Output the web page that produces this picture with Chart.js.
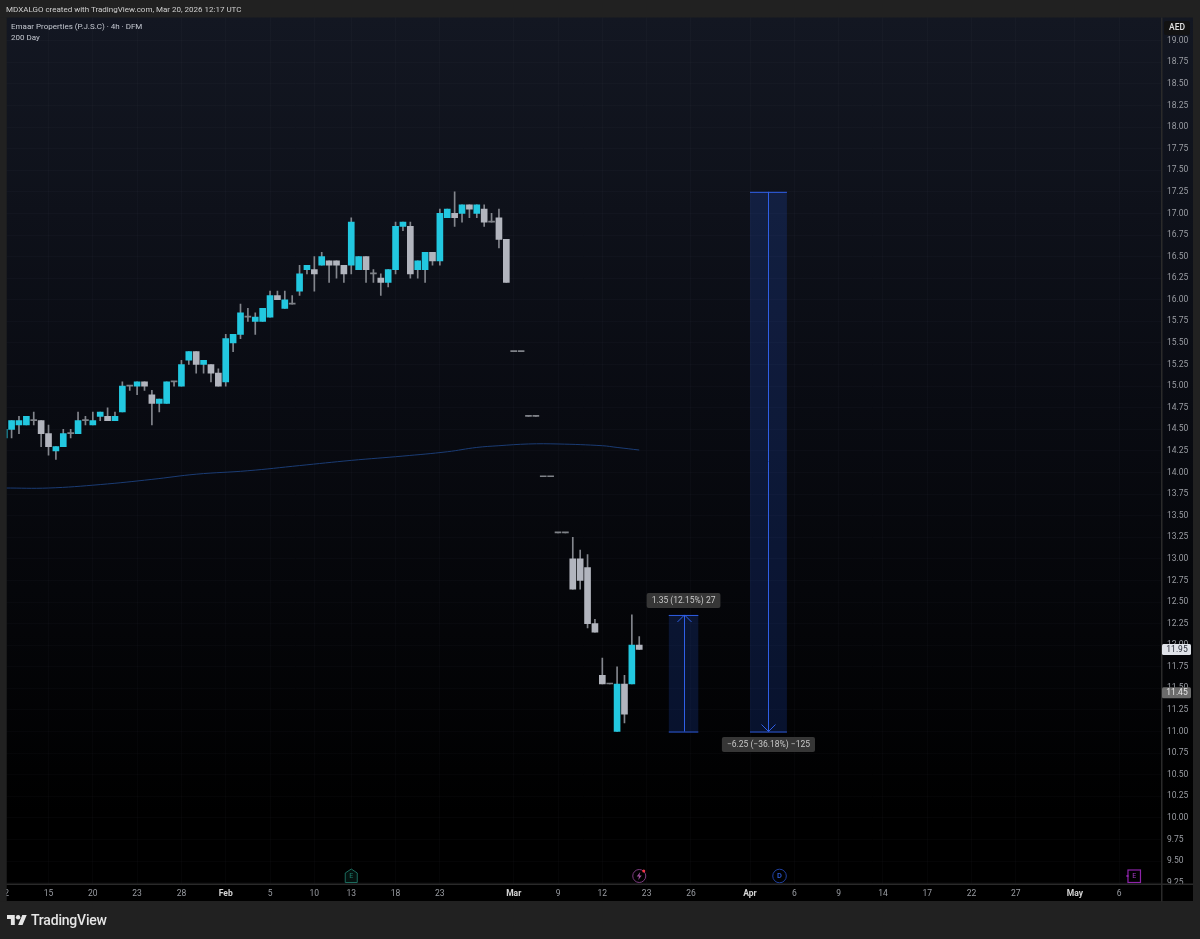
<!DOCTYPE html>
<html>
<head>
<meta charset="utf-8">
<title>Emaar Properties 4h</title>
<script src="https://cdn.jsdelivr.net/npm/chart.js@4"></script>
<style>
    html, body { margin: 0; padding: 0; background: #212121; }
    body { width: 1200px; height: 939px; overflow: hidden; position: relative; font-family: Roboto, sans-serif; }
    canvas { position: absolute; left: 0; top: 0; }
    .txt { position: absolute; white-space: nowrap; }
    #header { left: 6px; top: 4px; font-size: 8px; line-height: 11px; color: #cfcfcf; }
    #legend { left: 11px; top: 22px; font-size: 8px; line-height: 10.5px; color: #c4c8d0; }
    #brand { left: 31px; top: 911px; font-size: 14px; line-height: 18px; font-weight: 500; color: #e6e6e6; letter-spacing: -0.2px; }
    #logo { position: absolute; left: 7px; top: 914px; width: 20px; height: 12px; }
</style>
</head>
<body>
<canvas id="chart" width="1200" height="939"></canvas>
<div class="txt" id="header">MDXALGO created with TradingView.com, Mar 20, 2026 12:17 UTC</div>
<div class="txt" id="legend">Emaar Properties (P.J.S.C) · 4h · DFM<br>200 Day</div>
<svg id="logo" viewBox="0 4 36 18"><path fill="#e6e6e6" d="M14 22H7V11H0V4h14v18zM28 22h-8l7.5-18h8L28 22z"/><circle fill="#e6e6e6" cx="20" cy="8" r="4"/></svg>
<div class="txt" id="brand">TradingView</div>

<script>
// candles, one entry per 4h bar
const opens = [14.40,14.50,14.55,14.55,14.60,14.60,14.45,14.25,14.30,14.45,14.45,14.60,14.55,14.65,14.65,14.60,14.70,15.00,15.00,15.05,14.90,14.80,14.80,15.05,15.00,15.30,15.40,15.25,15.25,15.15,
    15.05,15.50,15.60,15.80,15.75,15.75,15.80,16.05,15.90,15.95,16.10,16.35,16.35,16.40,16.45,16.45,16.40,16.40,16.35,16.50,16.30,16.25,16.20,16.35,16.85,16.85,16.35,16.35,16.55,16.45,
    16.95,17.00,17.00,17.10,17.00,17.05,16.90,16.95,16.70,15.40,15.40,14.65,14.65,13.95,13.95,13.30,13.30,13.00,13.00,12.90,12.25,11.65,11.55,11.00,11.55,11.55,12.00];
const closes = [14.50,14.60,14.60,14.65,14.60,14.45,14.30,14.30,14.45,14.45,14.60,14.60,14.60,14.70,14.60,14.65,15.00,15.00,15.05,15.00,14.80,14.85,15.05,15.05,15.25,15.40,15.25,15.30,15.15,15.00,
    15.55,15.60,15.85,15.80,15.80,15.90,16.05,16.00,16.00,15.95,16.30,16.40,16.30,16.50,16.40,16.40,16.30,16.90,16.50,16.35,16.30,16.20,16.35,16.85,16.90,16.30,16.45,16.55,16.45,17.00,
    17.05,16.95,17.10,17.05,17.10,16.90,16.90,16.70,16.20,15.40,15.40,14.65,14.65,13.95,13.95,13.30,13.30,12.65,12.75,12.25,12.15,11.55,11.55,11.55,11.20,12.00,11.95];
const highs = [14.50,14.60,14.65,14.65,14.70,14.60,14.55,14.30,14.50,14.50,14.70,14.65,14.70,14.70,14.75,14.70,15.05,15.00,15.05,15.05,14.95,14.85,15.05,15.05,15.30,15.40,15.40,15.30,15.25,15.20,
    15.60,15.60,15.95,15.90,15.85,15.90,16.10,16.10,16.10,16.05,16.40,16.40,16.50,16.55,16.45,16.45,16.40,16.95,16.50,16.50,16.35,16.30,16.35,16.90,16.90,16.90,16.45,16.55,16.55,17.05,
    17.05,17.25,17.10,17.10,17.10,17.10,17.00,17.05,16.70,15.40,15.40,14.65,14.65,13.95,13.95,13.30,13.30,13.25,13.10,13.05,12.30,11.85,11.55,11.75,11.65,12.35,12.10];
const lows = [14.40,14.40,14.45,14.55,14.55,14.30,14.20,14.15,14.30,14.40,14.45,14.55,14.55,14.60,14.60,14.60,14.70,14.95,14.90,14.95,14.55,14.70,14.80,15.00,15.00,15.25,15.15,15.15,15.05,15.00,
    15.00,15.40,15.55,15.75,15.60,15.75,15.80,16.00,15.90,15.95,16.05,16.30,16.10,16.40,16.20,16.25,16.20,16.30,16.35,16.20,16.20,16.05,16.15,16.30,16.80,16.25,16.25,16.20,16.40,16.40,
    16.95,16.85,16.90,16.95,16.95,16.85,16.90,16.60,16.20,15.40,15.40,14.65,14.65,13.95,13.95,13.30,13.30,12.65,12.65,12.20,12.15,11.55,11.55,11.00,11.10,11.55,11.95];

// 200 Day moving average
const maBars = [0,6,13,20,26,33,40,47,54,60,64,67,71,75,81,83,86];
const maValues = [13.82,13.82,13.86,13.92,13.98,14.02,14.08,14.14,14.19,14.24,14.29,14.31,14.33,14.33,14.31,14.29,14.26];

// price axis
const priceTicks = [9.25,9.50,9.75,10.00,10.25,10.50,10.75,11.00,11.25,11.50,11.75,12.00,12.25,12.50,12.75,13.00,13.25,13.50,13.75,14.00,14.25,14.50,14.75,15.00,15.25,15.50,15.75,16.00,16.25,16.50,16.75,17.00,17.25,17.50,17.75,18.00,18.25,18.50,18.75,19.00];

// time axis
const timeTickBars = [0,6,12,18,24,30,36,42,47,53,59,69,75,81,87,93,101,107,113,119,125,131,137,145,151];
const timeTickLabels = ['12','15','20','23','28','Feb','5','10','13','18','23','Mar','9','12','23','26','Apr','6','9','14','17','22','27','May','6'];
const boldLabels = ['Feb','Mar','Apr','May'];

// measure tools
const measureFromBar = [90,101];
const measureToBar = [94,106];
const measureFrom = [11.00,17.25];
const measureTo = [12.35,11.00];
const measureLabels = ['1.35 (12.15%) 27','\u22126.25 (\u221236.18%) \u2212125'];

// price labels on the axis
const lastPrices = [11.95,11.45];
const lastPriceBg = ['#dfe2e8','#6b6b6b'];
const lastPriceFg = ['#2a2e39','#e6e6e6'];

// event markers on the time axis
const eventBars = [47,86,105,153];
const eventKinds = ['earnings','split','dividend','earningsNext'];

const CYAN = '#22c8e0';
const GRAY = '#b2b5be';
const WICK = '#83868d';
const DOJI = '#7f8288';
const FONT = 'Roboto, sans-serif';

const barIds = opens.map((v, i) => i);
const wickData = barIds.map(i => ({ x: i, y: [lows[i], highs[i]] }));
const bodyData = barIds.map(i => ({ x: i, y: [opens[i], closes[i]] }));
const bodyColors = barIds.map(i => {
    if (closes[i] > opens[i]) return CYAN;
    if (closes[i] < opens[i]) return GRAY;
    return DOJI;
});

function roundBox(ctx, x, y, w, h, r) {
    ctx.beginPath();
    ctx.roundRect(x, y, w, h, r);
}

// fond du graphique : bandeau sombre avec degrade vertical
const backgroundPlugin = {
    id: 'panel',
    beforeDraw(chart) {
        const ctx = chart.ctx;
        const top = chart.chartArea.top, bottom = chart.chartArea.bottom;
        const grad = ctx.createLinearGradient(0, top, 0, bottom);
        grad.addColorStop(0, '#131722');
        grad.addColorStop(0.45, '#090b12');
        grad.addColorStop(0.92, '#000000');
        grad.addColorStop(1, '#000000');
        ctx.save();
        ctx.fillStyle = grad;
        ctx.fillRect(6.5, top, 1186.5, 883.5);
        ctx.restore();
    },
    afterDraw(chart) {
        const ctx = chart.ctx;
        const a = chart.chartArea;
        const y = chart.scales.y;
        ctx.save();
        // bord gauche, coupe le label partiel
        ctx.fillStyle = '#212121';
        ctx.fillRect(0, a.top, 6.5, 884);
        // separateurs
        ctx.fillStyle = '#2a2a2a';
        ctx.fillRect(a.right, a.top, 1.5, 884);
        ctx.fillRect(6.5, a.bottom, 1186.5, 1.5);
        // AED
        ctx.fillStyle = '#121212';
        roundBox(ctx, 1164, 21, 26, 14, 2);
        ctx.fill();
        ctx.fillStyle = '#e0e0e0';
        ctx.font = '500 8.5px ' + FONT;
        ctx.textAlign = 'center';
        ctx.textBaseline = 'middle';
        ctx.fillText('AED', 1177, 28);
        // last prices
        lastPrices.forEach((p, i) => {
            const py = y.getPixelForValue(p);
            ctx.fillStyle = lastPriceBg[i];
            roundBox(ctx, 1162, py - 5.5, 29, 11, 1.5);
            ctx.fill();
            ctx.fillStyle = lastPriceFg[i];
            ctx.font = '8.5px ' + FONT;
            ctx.fillText(p.toFixed(2), 1177, py + 0.5);
        });
        ctx.restore();
    }
};

// outil de mesure : rectangle bleu, fleche et etiquette
const measurePlugin = {
    id: 'measure',
    beforeDatasetsDraw(chart) {
        const ctx = chart.ctx;
        const xs = chart.scales.x, ys = chart.scales.y;
        ctx.save();
        measureFromBar.forEach((b, i) => {
            const x0 = xs.getPixelForValue(b), x1 = xs.getPixelForValue(measureToBar[i]);
            const yA = ys.getPixelForValue(measureFrom[i]), yB = ys.getPixelForValue(measureTo[i]);
            const top = Math.min(yA, yB), bottom = Math.max(yA, yB);
            const mid = Math.round((x0 + x1) / 2) + 0.5;
            const dir = yB < yA ? 1 : -1;
            ctx.fillStyle = 'rgba(41,98,255,0.17)';
            ctx.fillRect(x0, top, x1 - x0, bottom - top);
            ctx.strokeStyle = '#2f5fe6';
            ctx.lineWidth = 1;
            ctx.beginPath();
            ctx.moveTo(x0, top + 0.5); ctx.lineTo(x1, top + 0.5);
            ctx.moveTo(x0, bottom + 0.5); ctx.lineTo(x1, bottom + 0.5);
            ctx.moveTo(mid, top); ctx.lineTo(mid, bottom);
            ctx.moveTo(mid - 7, yB + dir * 7); ctx.lineTo(mid, yB); ctx.lineTo(mid + 7, yB + dir * 7);
            ctx.stroke();
        });
        ctx.restore();
    },
    afterDatasetsDraw(chart) {
        const ctx = chart.ctx;
        const xs = chart.scales.x, ys = chart.scales.y;
        ctx.save();
        ctx.font = '8.5px ' + FONT;
        ctx.textAlign = 'center';
        ctx.textBaseline = 'middle';
        measureLabels.forEach((label, i) => {
            const cx = (xs.getPixelForValue(measureFromBar[i]) + xs.getPixelForValue(measureToBar[i])) / 2;
            const up = measureTo[i] > measureFrom[i];
            const edge = ys.getPixelForValue(measureTo[i]);
            const w = ctx.measureText(label).width + 10;
            const cy = up ? edge - 14.5 : edge + 13;
            ctx.fillStyle = '#363636';
            roundBox(ctx, cx - w / 2, cy - 7.5, w, 15, 2);
            ctx.fill();
            ctx.fillStyle = '#c8c8c8';
            ctx.fillText(label, cx, cy + 0.5);
        });
        ctx.restore();
    }
};

// marqueurs d'evenements en bas du graphique
const eventPlugin = {
    id: 'events',
    afterDatasetsDraw(chart) {
        const ctx = chart.ctx;
        const xs = chart.scales.x;
        const cy = chart.chartArea.bottom - 7.5;
        ctx.save();
        ctx.textAlign = 'center';
        ctx.textBaseline = 'middle';
        eventBars.forEach((b, i) => {
            const cx = xs.getPixelForValue(b);
            const kind = eventKinds[i];
            ctx.lineWidth = 1;
            if (kind === 'earnings') {
                ctx.strokeStyle = '#1b6a5c';
                ctx.fillStyle = '#04120f';
                ctx.beginPath();
                ctx.moveTo(cx, cy - 7);
                ctx.lineTo(cx + 6, cy - 3);
                ctx.lineTo(cx + 6, cy + 6.5);
                ctx.lineTo(cx - 6, cy + 6.5);
                ctx.lineTo(cx - 6, cy - 3);
                ctx.closePath();
                ctx.fill();
                ctx.stroke();
                ctx.fillStyle = '#1f7f6d';
                ctx.font = '7px ' + FONT;
                ctx.fillText('E', cx, cy + 0.5);
            } else if (kind === 'split') {
                ctx.strokeStyle = '#7b3a7e';
                ctx.beginPath();
                ctx.arc(cx, cy, 6.5, 0, Math.PI * 2);
                ctx.stroke();
                ctx.fillStyle = '#a0529f';
                ctx.beginPath();
                ctx.moveTo(cx + 1, cy - 4);
                ctx.lineTo(cx - 2.5, cy + 0.5);
                ctx.lineTo(cx - 0.2, cy + 0.5);
                ctx.lineTo(cx - 1, cy + 4);
                ctx.lineTo(cx + 2.5, cy - 0.5);
                ctx.lineTo(cx + 0.2, cy - 0.5);
                ctx.closePath();
                ctx.fill();
                ctx.fillStyle = '#f23645';
                ctx.beginPath();
                ctx.arc(cx + 4.5, cy - 5, 1.5, 0, Math.PI * 2);
                ctx.fill();
            } else if (kind === 'dividend') {
                ctx.strokeStyle = '#1f3f9e';
                ctx.beginPath();
                ctx.arc(cx, cy, 6.8, 0, Math.PI * 2);
                ctx.stroke();
                ctx.fillStyle = '#2f5fe0';
                ctx.font = '500 7.5px ' + FONT;
                ctx.fillText('D', cx, cy + 0.5);
            } else {
                ctx.strokeStyle = '#8e24aa';
                ctx.lineWidth = 1.2;
                ctx.strokeRect(cx - 6, cy - 6, 12.5, 12.5);
                ctx.fillStyle = '#8e24aa';
                ctx.fillRect(cx - 7.5, cy - 1, 2, 2);
                ctx.fillStyle = '#a63ac4';
                ctx.font = '7px ' + FONT;
                ctx.fillText('E', cx + 0.3, cy + 0.5);
            }
        });
        ctx.restore();
    }
};

new Chart(document.getElementById('chart').getContext('2d'), {
    type: 'bar',
    data: {
        datasets: [
            {
                type: 'line',
                label: '200 Day',
                data: maBars.map((b, i) => ({ x: b, y: maValues[i] })),
                borderColor: '#1b3c74',
                borderWidth: 1,
                pointRadius: 0,
                tension: 0.4,
                order: 3
            },
            {
                label: 'wicks',
                data: wickData,
                backgroundColor: WICK,
                barThickness: 1,
                grouped: false,
                order: 2
            },
            {
                label: 'bodies',
                data: bodyData,
                backgroundColor: bodyColors,
                barThickness: 6,
                minBarLength: 1,
                grouped: false,
                order: 1
            }
        ]
    },
    options: {
        responsive: false,
        animation: false,
        layout: { padding: { left: 6.5, top: 17.5, right: 7, bottom: 38 } },
        plugins: { legend: { display: false }, tooltip: { enabled: false } },
        scales: {
            x: {
                type: 'linear',
                offset: false,
                min: 0.31,
                max: 156.66,
                afterFit(scale) { scale.height = 17.5; scale.paddingLeft = 0; scale.paddingRight = 0; },
                afterBuildTicks(scale) { scale.ticks = timeTickBars.map(v => ({ value: v })); },
                grid: { color: 'rgba(130,150,180,0.035)', drawTicks: false, offset: false },
                border: { display: false },
                ticks: {
                    autoSkip: false,
                    maxRotation: 0,
                    padding: 5,
                    color(ctx) {
                        return boldLabels.includes(timeTickLabels[ctx.index]) ? '#d4d4d4' : '#9a9da3';
                    },
                    font(ctx) {
                        const bold = boldLabels.includes(timeTickLabels[ctx.index]);
                        return { family: 'Roboto', size: 8.5, weight: bold ? 'bold' : 'normal' };
                    },
                    callback(value, index) { return timeTickLabels[index]; }
                }
            },
            y: {
                position: 'right',
                min: 9.24,
                max: 19.269,
                afterFit(scale) { scale.width = 32; scale.paddingTop = 0; scale.paddingBottom = 0; },
                afterBuildTicks(scale) { scale.ticks = priceTicks.map(v => ({ value: v })); },
                grid: { color: 'rgba(130,150,180,0.035)', drawTicks: false },
                border: { display: false },
                ticks: {
                    autoSkip: false,
                    padding: 6,
                    crossAlign: 'near',
                    color: '#9a9da3',
                    font: { family: 'Roboto', size: 8.5 },
                    callback(value) { return Number(value).toFixed(2); }
                }
            }
        }
    },
    plugins: [backgroundPlugin, measurePlugin, eventPlugin]
});
</script>
</body>
</html>
